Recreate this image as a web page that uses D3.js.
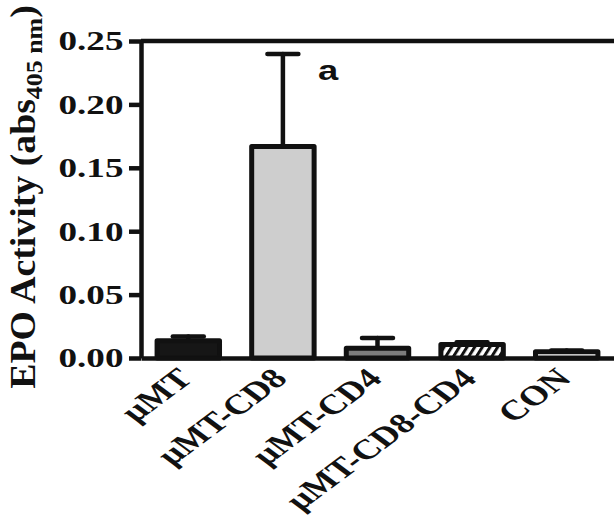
<!DOCTYPE html>
<html>
<head>
<meta charset="utf-8">
<script src="https://cdn.jsdelivr.net/npm/d3@7"></script>
<style>
  body { margin: 0; background: #fff; }
  svg { display: block; }
</style>
</head>
<body>
<svg id="svg" width="614" height="517"></svg>
<script>
// data
var categories = ["\u00b5MT", "\u00b5MT-CD8", "\u00b5MT-CD4", "\u00b5MT-CD8-CD4", "CON"];
var means = [0.0136, 0.1668, 0.0077, 0.0106, 0.0049];
var errors = [0.0034, 0.0730, 0.0081, 0.0019, 0.0010];
var fills = ["#161616", "#cecece", "#7d7d7d", "url(#hatch)", "#ffffff"];
var yTicks = [0, 0.05, 0.10, 0.15, 0.20, 0.25];
var marks = [{ cat: "\u00b5MT-CD8", text: "a" }];

var data = categories.map(function (c, i) {
  return { cat: c, mean: means[i], err: errors[i], fill: fills[i] };
});

var svg = d3.select("#svg");
var stretch = 1.35; // the original figure was stretched sideways

var plot = { left: 141, right: 614, top: 41, bottom: 358 };

var y = d3.scaleLinear().domain([0, 0.25]).range([plot.bottom, plot.top]);
var x = d3.scaleBand()
  .domain(categories)
  .range([plot.left, plot.right])
  .paddingInner(0.34)
  .paddingOuter(0.17);

// hatch pattern
var defs = svg.append("defs");
var pat = defs.append("pattern")
  .attr("id", "hatch")
  .attr("patternUnits", "userSpaceOnUse")
  .attr("width", 6.5).attr("height", 10)
  .attr("patternTransform", "rotate(32)");
pat.append("rect").attr("width", 6.5).attr("height", 10).attr("fill", "#fff");
pat.append("rect").attr("width", 3).attr("height", 10).attr("fill", "#111");

// top frame line
svg.append("line")
  .attr("x1", plot.left).attr("x2", plot.right)
  .attr("y1", y(0.25)).attr("y2", y(0.25))
  .attr("stroke", "#111").attr("stroke-width", 4.5);

// error bars
var eb = svg.append("g").attr("stroke", "#111").attr("stroke-linecap", "round");
eb.selectAll(".stem").data(data).enter().append("line")
  .attr("x1", function (d) { return x(d.cat) + x.bandwidth() / 2; })
  .attr("x2", function (d) { return x(d.cat) + x.bandwidth() / 2; })
  .attr("y1", function (d) { return y(d.mean); })
  .attr("y2", function (d) { return y(d.mean + d.err); })
  .attr("stroke-width", 4.5);
eb.selectAll(".cap").data(data).enter().append("line")
  .attr("x1", function (d) { return x(d.cat) + x.bandwidth() / 2 - 15.5; })
  .attr("x2", function (d) { return x(d.cat) + x.bandwidth() / 2 + 15.5; })
  .attr("y1", function (d) { return y(d.mean + d.err); })
  .attr("y2", function (d) { return y(d.mean + d.err); })
  .attr("stroke-width", 4.5);

// bars
svg.append("g").selectAll("rect").data(data).enter().append("rect")
  .attr("x", function (d) { return x(d.cat); })
  .attr("width", x.bandwidth())
  .attr("y", function (d) { return y(d.mean); })
  .attr("height", function (d) { return y(0) - y(d.mean); })
  .attr("fill", function (d) { return d.fill; })
  .attr("stroke", "#111")
  .attr("stroke-width", 5)
  .attr("stroke-linejoin", "round");

// y axis
var yAxis = svg.append("g")
  .attr("transform", "translate(" + plot.left + ",0)")
  .call(d3.axisLeft(y).tickValues(yTicks).tickFormat(d3.format(".2f"))
    .tickSize(12).tickSizeOuter(0).tickPadding(1));
yAxis.select(".domain").attr("stroke", "#111").attr("stroke-width", 4.5);
yAxis.selectAll(".tick line").attr("stroke", "#111").attr("stroke-width", 4.5);
yAxis.selectAll(".tick text")
  .attr("font-family", "'Liberation Serif', 'Times New Roman', serif")
  .attr("font-weight", "bold")
  .attr("font-size", 27.5)
  .attr("fill", "#111")
  .attr("transform", "scale(" + stretch + ",1)");

// x axis
var xAxis = svg.append("g")
  .attr("transform", "translate(0," + y(0) + ")")
  .call(d3.axisBottom(x).tickSize(0).tickSizeOuter(0));
xAxis.select(".domain").attr("stroke", "#111").attr("stroke-width", 4.5);
xAxis.selectAll(".tick text")
  .attr("font-family", "'Liberation Serif', 'Times New Roman', serif")
  .attr("font-weight", "bold")
  .attr("font-size", 28)
  .attr("fill", "#111")
  .attr("text-anchor", "end")
  .attr("x", 0).attr("y", 0).attr("dy", 0)
  .attr("transform", "translate(6,22) scale(" + stretch + ",1) rotate(-45)");

// y axis title
var title = svg.append("text")
  .attr("transform", "translate(35,197) scale(1,1.08) rotate(-90)")
  .attr("text-anchor", "middle")
  .attr("font-family", "'Liberation Serif', 'Times New Roman', serif")
  .attr("font-weight", "bold")
  .attr("font-size", 35)
  .attr("fill", "#111");
title.append("tspan").text("EPO Activity (abs");
title.append("tspan").attr("font-size", 24).attr("dy", 7).text("405 nm");
title.append("tspan").attr("dy", -7).text(")");

// significance letter
svg.selectAll(".mark").data(marks).enter().append("text")
  .attr("transform", function (d) {
    var i = categories.indexOf(d.cat);
    return "translate(" + (x(d.cat) + x.bandwidth() / 2 + 35) + "," +
      (y(means[i] + errors[i]) + 26) + ") scale(1.3,1)";
  })
  .attr("font-family", "'Liberation Sans', Arial, sans-serif")
  .attr("font-weight", "bold")
  .attr("font-size", 28)
  .attr("fill", "#111")
  .text(function (d) { return d.text; });
</script>
</body>
</html>
